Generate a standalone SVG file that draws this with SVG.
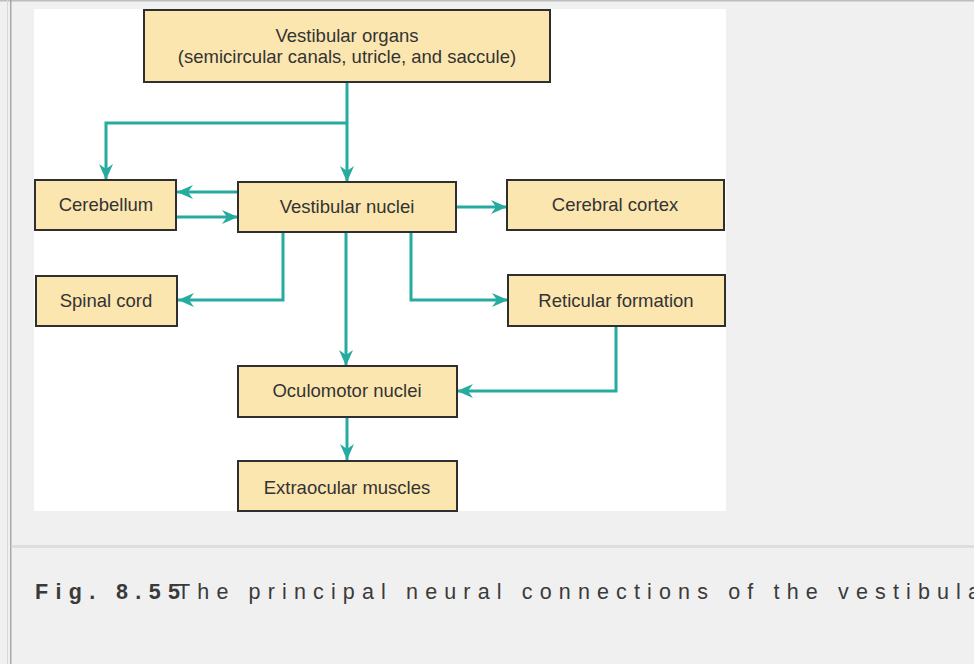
<svg xmlns="http://www.w3.org/2000/svg" width="974" height="664" viewBox="0 0 974 664">
<style>
.box{fill:#fce6af;stroke:#2f2f2f;stroke-width:2}
.lbl{font-family:"Liberation Sans",Arial,sans-serif;font-size:18.5px;fill:#333;text-anchor:middle}
.con{fill:none;stroke:#26aba0;stroke-width:3;marker-end:url(#ah)}
.cap{font-family:"Liberation Sans",Arial,sans-serif;font-size:21.5px;fill:#3a3a3a}
</style>
<defs>
<marker id="ah" markerUnits="userSpaceOnUse" markerWidth="18" markerHeight="14" refX="16" refY="7" orient="auto">
<path d="M0,0 L16,7 L0,14 L5,7 Z" fill="#26aba0"/>
</marker>
</defs>
<rect width="974" height="664" fill="#f0f0f0"/>
<rect x="0" y="0" width="974" height="1.5" fill="#bdbdbd"/>
<rect x="7" y="0" width="1" height="664" fill="#d8d8d8"/>
<rect x="10" y="0" width="1.5" height="664" fill="#a8a8a8"/>
<rect x="34" y="9" width="692" height="502" fill="#ffffff"/>
<rect x="11.5" y="545" width="962.5" height="3" fill="#dedede"/>

<g id="connectors">
<path class="con" d="M347,82 V182"/>
<path class="con" d="M347,123 H106 V180"/>
<path class="con" d="M238,192 H177"/>
<path class="con" d="M177,217 H238"/>
<path class="con" d="M456,207 H507"/>
<path class="con" d="M283,232 V300 H178"/>
<path class="con" d="M411,232 V300 H508"/>
<path class="con" d="M346,232 V366"/>
<path class="con" d="M616,326 V391 H457"/>
<path class="con" d="M347,417 V460"/>
</g>

<g id="vestibular-organs">
<rect class="box" x="144" y="10" width="406" height="72"/>
<text class="lbl" x="347" y="42">Vestibular organs</text>
<text class="lbl" x="347" y="63">(semicircular canals, utricle, and saccule)</text>
</g>
<g id="cerebellum">
<rect class="box" x="35" y="180" width="141" height="50"/>
<text class="lbl" x="106" y="211">Cerebellum</text>
</g>
<g id="vestibular-nuclei">
<rect class="box" x="238" y="182" width="218" height="50"/>
<text class="lbl" x="347" y="213">Vestibular nuclei</text>
</g>
<g id="cerebral-cortex">
<rect class="box" x="507" y="180" width="217" height="50"/>
<text class="lbl" x="615" y="211">Cerebral cortex</text>
</g>
<g id="spinal-cord">
<rect class="box" x="36" y="276" width="141" height="50"/>
<text class="lbl" x="106" y="307">Spinal cord</text>
</g>
<g id="reticular-formation">
<rect class="box" x="508" y="275" width="217" height="51"/>
<text class="lbl" x="616" y="307">Reticular formation</text>
</g>
<g id="oculomotor-nuclei">
<rect class="box" x="238" y="366" width="219" height="51"/>
<text class="lbl" x="347" y="397">Oculomotor nuclei</text>
</g>
<g id="extraocular-muscles">
<rect class="box" x="238" y="461" width="219" height="50"/>
<text class="lbl" x="347" y="494">Extraocular muscles</text>
</g>

<g id="caption">
<text class="cap" x="35" y="599" font-weight="bold" textLength="145" lengthAdjust="spacing">Fig. 8.55</text>
<text class="cap" x="177" y="599" textLength="803" lengthAdjust="spacing">The principal neural connections of the vestibula</text>
</g>
</svg>
